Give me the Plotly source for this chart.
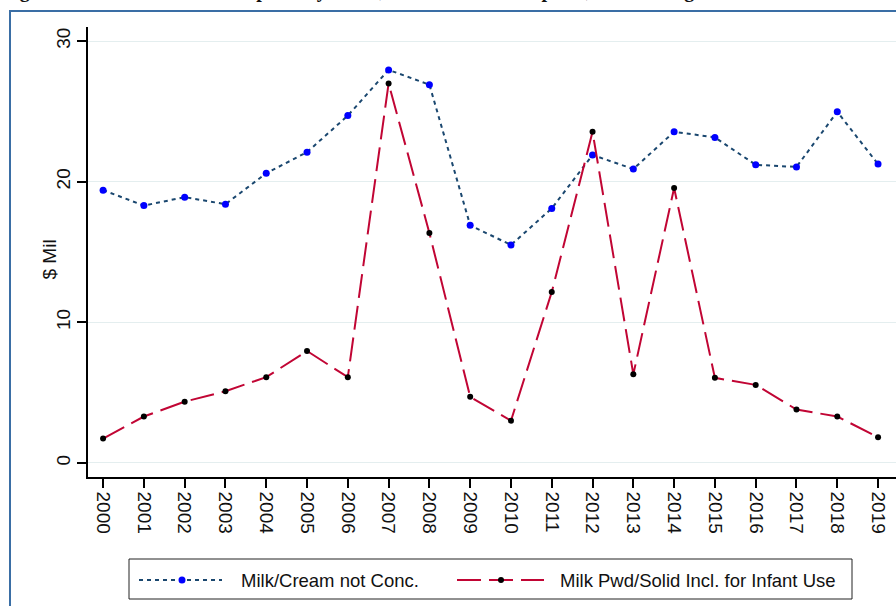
import plotly.graph_objects as go

years = list(range(2000, 2020))
milk_cream = [19.4, 18.3, 18.9, 18.4, 20.6, 22.1, 24.7, 27.95, 26.9, 16.9,
              15.5, 18.1, 21.9, 20.9, 23.55, 23.15, 21.2, 21.05, 24.97, 21.25]
milk_pwd = [1.73, 3.3, 4.36, 5.1, 6.1, 7.96, 6.1, 26.98, 16.35, 4.7,
            3.0, 12.15, 23.55, 6.3, 19.55, 6.05, 5.55, 3.8, 3.3, 1.83]
series_names = ["Milk/Cream not Conc.", "Milk Pwd/Solid Incl. for Infant Use"]
y_ticks = [0, 10, 20, 30]
title_text = "Figure 4: Milk and Cream Imports by Value, Milk Products Imports, Total Categories"

W, H = 896, 606
L, R, T, B = 88, 0, 27, 129
pw, ph = W - L - R, H - T - B

def px(x):
    return (x - L) / pw

def py(y):
    return (H - B - y) / ph

blue_line = "#1a476f"
blue_mark = "#0000ff"
red_line = "#c10534"
blue_dash = "4px,4px"
red_dash = "24px,8px"

fig = go.Figure()
fig.add_trace(go.Scatter(x=years, y=milk_cream, mode="lines+markers", name=series_names[0],
                         line=dict(color=blue_line, width=2, dash=blue_dash),
                         marker=dict(color=blue_mark, size=7)))
fig.add_trace(go.Scatter(x=years, y=milk_pwd, mode="lines+markers", name=series_names[1],
                         line=dict(color=red_line, width=2, dash=red_dash),
                         marker=dict(color="black", size=6)))

shapes = []
# outer frame
shapes.append(dict(type="rect", xref="paper", yref="paper", x0=px(10), x1=px(W + 20),
                   y0=py(H + 20), y1=py(11), line=dict(color="#3a6ea5", width=2), layer="below"))
# legend box
shapes.append(dict(type="rect", xref="paper", yref="paper", x0=px(129), x1=px(852),
                   y0=py(599), y1=py(559), line=dict(color="#222", width=1)))
ly = py(580)
shapes.append(dict(type="line", xref="paper", yref="paper", x0=px(139), x1=px(222), y0=ly, y1=ly,
                   line=dict(color=blue_line, width=2, dash=blue_dash)))
shapes.append(dict(type="line", xref="paper", yref="paper", x0=px(457), x1=px(544), y0=ly, y1=ly,
                   line=dict(color=red_line, width=2, dash=red_dash)))
for cx, col, s in [(182, blue_mark, 3.5), (501, "black", 3)]:
    shapes.append(dict(type="circle", xref="paper", yref="paper", xsizemode="pixel", ysizemode="pixel",
                       xanchor=px(cx), yanchor=ly, x0=-s, x1=s, y0=-s, y1=s,
                       fillcolor=col, line=dict(color=col, width=0)))

annotations = [
    dict(text=series_names[0], xref="paper", yref="paper", x=px(239), y=ly, xanchor="left",
         yanchor="middle", showarrow=False, font=dict(size=18.5, color="#111")),
    dict(text=series_names[1], xref="paper", yref="paper", x=px(558), y=ly, xanchor="left",
         yanchor="middle", showarrow=False, font=dict(size=18.5, color="#111")),
    dict(text="$ Mil", xref="paper", yref="paper", x=px(36), y=py(260), textangle=-90,
         showarrow=False, font=dict(size=19, color="#111")),
    dict(text="<b>" + title_text + "</b>", xref="paper", yref="paper", x=px(0), y=py(-10),
         xanchor="left", yanchor="middle", showarrow=False,
         font=dict(size=20, color="#111", family="Liberation Serif, Times New Roman, serif")),
]

fig.update_layout(
    width=W, height=H, margin=dict(l=L, r=R, t=T, b=B),
    paper_bgcolor="white", plot_bgcolor="white", showlegend=False,
    font=dict(family="Liberation Sans, Arial, sans-serif", color="#111"),
    shapes=shapes, annotations=annotations,
)
fig.update_xaxes(range=[1999.63, 2019.44], tickmode="array", tickvals=years,
                 ticktext=[str(y) for y in years], tickangle=90, tickfont=dict(size=19),
                 showgrid=False, zeroline=False, showline=True, linecolor="black", linewidth=1.5,
                 ticks="outside", ticklen=9, tickwidth=1.5, tickcolor="black")
fig.update_yaxes(range=[-1.0, 31.0], tickmode="array", tickvals=y_ticks,
                 ticktext=[str(v) for v in y_ticks], tickangle=-90, tickfont=dict(size=19),
                 showgrid=True, gridcolor="#e4eeef", gridwidth=1, zeroline=False,
                 showline=True, linecolor="black", linewidth=1.5,
                 ticks="outside", ticklen=9, tickwidth=1.5, tickcolor="black")

fig.write_html("out.html", config={"displayModeBar": False},
               post_script="document.body.style.margin='0';document.body.style.overflow='hidden';")
